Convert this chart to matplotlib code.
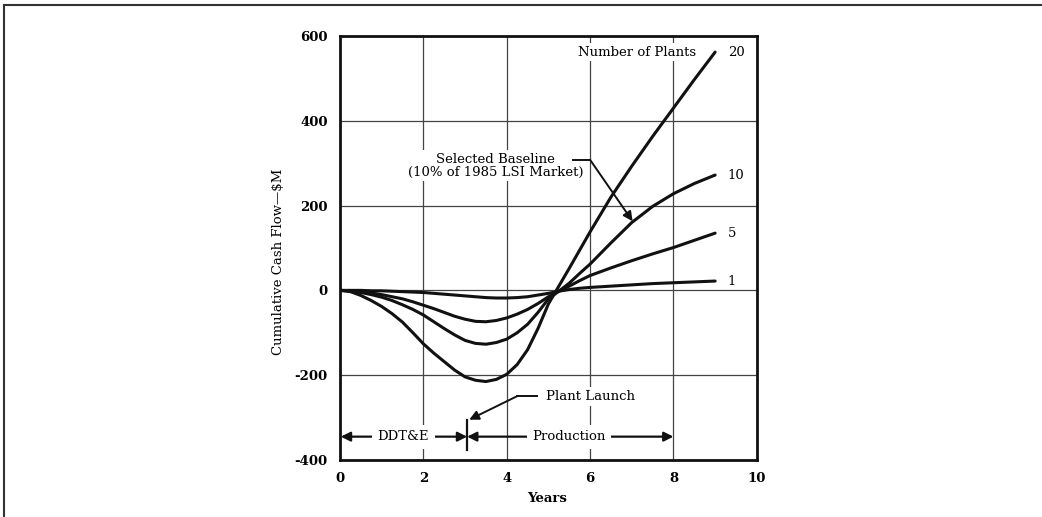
import numpy as np
import matplotlib
matplotlib.use("Agg")
import matplotlib.pyplot as plt
from matplotlib.lines import Line2D

# years and cumulative cash flow ($M) per number of plants
years = [0, 0.25, 0.5, 0.75, 1, 1.25, 1.5, 1.75, 2, 2.25, 2.5, 2.75, 3, 3.25, 3.5, 3.75,
         4, 4.25, 4.5, 4.75, 5, 5.25, 5.5, 5.75, 6, 6.5, 7, 7.5, 8, 8.5, 9]
plants_20 = [0, -3, -12, -24, -38, -55, -75, -100, -126, -148, -168, -188, -204, -212, -215, -210,
             -198, -175, -140, -90, -32, 10, 52, 95, 138, 220, 293, 363, 430, 497, 562]
plants_10 = [0, -1, -5, -10, -16, -24, -34, -45, -58, -74, -90, -105, -118, -125, -127, -123,
             -115, -100, -80, -52, -20, -2, 17, 40, 62, 112, 160, 198, 228, 252, 272]
plants_5 = [0, -1, -3, -6, -10, -15, -20, -27, -35, -43, -52, -61, -68, -73, -74, -71,
            -65, -56, -45, -31, -15, -2, 10, 23, 35, 53, 70, 86, 101, 118, 135]
plants_1 = [0, 0, 0, -1, -1, -2, -3, -4, -5, -7, -9, -11, -13, -15, -17, -18,
            -18, -17, -15, -11, -7, -2, 2, 5, 7, 10, 13, 16, 18, 20, 22]
series = [("20", plants_20), ("10", plants_10), ("5", plants_5), ("1", plants_1)]

xticks = [0, 2, 4, 6, 8, 10]
yticks = [-400, -200, 0, 200, 400, 600]

plt.rcParams['font.family'] = ['DejaVu Serif']
fig = plt.figure(figsize=(10.42, 5.17), dpi=100)
ax = fig.add_axes([0.3263, 0.1103, 0.4000, 0.8201])

for label, vals in series:
    ax.plot(years, vals, color='#111111', lw=2.2, solid_capstyle='round',
            solid_joinstyle='round', zorder=3)
    ax.text(years[-1] + 0.3, vals[-1], label, fontsize=9.5, va='center', ha='left')

ax.set_xlim(0, 10)
ax.set_ylim(-400, 600)
ax.set_xticks(xticks)
ax.set_yticks(yticks)
ax.set_xticklabels([str(t) for t in xticks], fontweight='bold', fontsize=9.5)
ax.set_yticklabels([str(t) for t in yticks], fontweight='bold', fontsize=9.5)
ax.tick_params(length=0, pad=9)
ax.grid(True, color='#444444', lw=0.9)
ax.set_axisbelow(True)
for s in ax.spines.values():
    s.set_linewidth(2)
    s.set_color('#111111')

ax.set_xlabel('Years', fontsize=9.5, fontweight='bold')
ax.xaxis.set_label_coords(0.496, -0.075)
ax.set_ylabel('Cumulative Cash Flow\u2014$M', fontsize=9.5)
ax.yaxis.set_label_coords(-0.133, 0.467)

box = dict(facecolor='white', edgecolor='none', pad=2)

ax.text(8.55, 562, 'Number of Plants', fontsize=9.5, ha='right', va='center', bbox=box, zorder=4)

# selected baseline callout
ax.text(3.73, 294, 'Selected Baseline\n(10% of 1985 LSI Market)', fontsize=9.5,
        ha='center', va='center', linespacing=1.0, bbox=box, zorder=4)
ax.plot([5.6, 6.0], [308, 308], color='#111111', lw=1.4, zorder=5)
ax.annotate('', xy=(7.02, 163), xytext=(6.0, 308),
            arrowprops=dict(arrowstyle='-|>', color='#111111', lw=1.4,
                            mutation_scale=14, shrinkA=0, shrinkB=0), zorder=5)

# plant launch callout
ax.text(4.95, -250, 'Plant Launch', fontsize=9.5, ha='left', va='center', bbox=box, zorder=4)
ax.plot([4.24, 4.72], [-250, -250], color='#111111', lw=1.4, zorder=5)
ax.annotate('', xy=(3.1, -305), xytext=(4.24, -250),
            arrowprops=dict(arrowstyle='-|>', color='#111111', lw=1.4,
                            mutation_scale=14, shrinkA=0, shrinkB=0), zorder=5)
ax.plot([3.05, 3.05], [-305, -376], color='#111111', lw=1.6, zorder=5)

# phase arrows
ax.annotate('', xy=(0.02, -345), xytext=(3.05, -345),
            arrowprops=dict(arrowstyle='<|-|>', color='#111111', lw=1.6,
                            mutation_scale=14, shrinkA=0, shrinkB=0), zorder=5)
ax.annotate('', xy=(3.05, -345), xytext=(8.0, -345),
            arrowprops=dict(arrowstyle='<|-|>', color='#111111', lw=1.6,
                            mutation_scale=14, shrinkA=0, shrinkB=0), zorder=5)
ax.text(1.52, -345, 'DDT&E', fontsize=9.5, ha='center', va='center',
        bbox=dict(facecolor='white', edgecolor='none', pad=4), zorder=6)
ax.text(5.5, -345, 'Production', fontsize=9.5, ha='center', va='center',
        bbox=dict(facecolor='white', edgecolor='none', pad=4), zorder=6)

# page frame (top and left edges)
fig.add_artist(Line2D([4 / 1042, 1], [1 - 5 / 517, 1 - 5 / 517], color='#333333', lw=1.5))
fig.add_artist(Line2D([4 / 1042, 4 / 1042], [0, 1 - 5 / 517], color='#333333', lw=1.5))

fig.savefig('out.png', dpi=100)
